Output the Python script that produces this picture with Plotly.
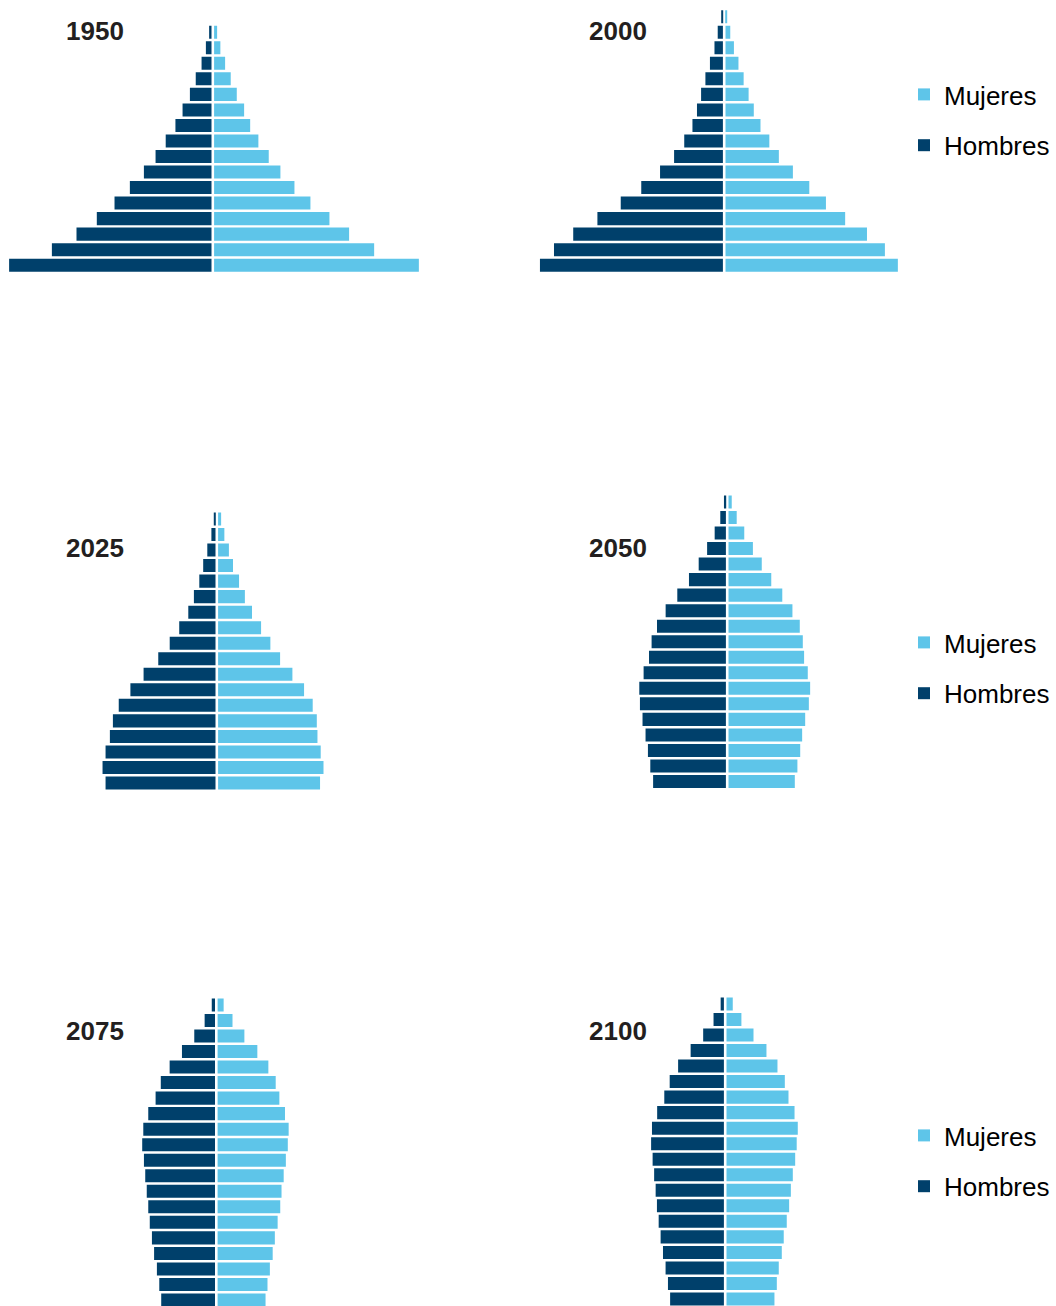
import plotly.graph_objects as go

# ---------------- data (% of total population, youngest -> oldest) ----------------
age_groups = ["0-4", "5-9", "10-14", "15-19", "20-24", "25-29", "30-34", "35-39",
              "40-44", "45-49", "50-54", "55-59", "60-64", "65-69", "70-74",
              "75-79", "80-84", "85-89", "90-94", "95-99", "100+"]
years = ["1950", "2000", "2025", "2050", "2075", "2100"]

hombres_1950 = [9.37, 7.39, 6.25, 5.31, 4.49, 3.78, 3.13, 2.59, 2.12, 1.67, 1.34, 1.00, 0.73, 0.46, 0.26, 0.11]
mujeres_1950 = [9.48, 7.41, 6.25, 5.34, 4.46, 3.72, 3.07, 2.53, 2.05, 1.67, 1.39, 1.05, 0.77, 0.51, 0.29, 0.14]

hombres_2000 = [8.47, 7.82, 6.93, 5.81, 4.73, 3.78, 2.91, 2.26, 1.79, 1.41, 1.20, 1.01, 0.81, 0.60, 0.39, 0.24, 0.06]
mujeres_2000 = [7.98, 7.38, 6.55, 5.54, 4.65, 3.88, 3.12, 2.47, 2.03, 1.62, 1.31, 1.07, 0.84, 0.60, 0.39, 0.22, 0.06]

hombres_2025 = [5.09, 5.23, 5.09, 4.89, 4.75, 4.48, 3.94, 3.33, 2.65, 2.12, 1.68, 1.26, 1.00, 0.75, 0.57, 0.38, 0.19, 0.08]
mujeres_2025 = [4.72, 4.88, 4.75, 4.60, 4.57, 4.38, 3.98, 3.44, 2.87, 2.42, 1.99, 1.57, 1.24, 0.97, 0.69, 0.50, 0.29, 0.14]

hombres_2050 = [3.37, 3.50, 3.61, 3.72, 3.86, 3.98, 4.01, 3.81, 3.56, 3.44, 3.19, 2.79, 2.25, 1.71, 1.26, 0.87, 0.52, 0.26, 0.09]
mujeres_2050 = [3.07, 3.19, 3.32, 3.41, 3.55, 3.72, 3.78, 3.67, 3.50, 3.44, 3.30, 2.96, 2.49, 1.98, 1.54, 1.13, 0.73, 0.38, 0.15]

hombres_2075 = [2.49, 2.58, 2.69, 2.82, 2.92, 3.02, 3.09, 3.16, 3.23, 3.29, 3.37, 3.32, 3.09, 2.75, 2.51, 2.10, 1.53, 0.96, 0.48, 0.15]
mujeres_2075 = [2.22, 2.31, 2.42, 2.55, 2.65, 2.78, 2.90, 2.96, 3.06, 3.16, 3.25, 3.29, 3.12, 2.86, 2.69, 2.35, 1.84, 1.24, 0.69, 0.28]

hombres_2100 = [2.49, 2.59, 2.70, 2.82, 2.93, 3.02, 3.10, 3.16, 3.23, 3.30, 3.37, 3.33, 3.09, 2.76, 2.51, 2.12, 1.54, 0.96, 0.48, 0.15]
mujeres_2100 = [2.22, 2.33, 2.42, 2.56, 2.65, 2.79, 2.90, 2.98, 3.07, 3.18, 3.25, 3.30, 3.15, 2.87, 2.70, 2.36, 1.85, 1.25, 0.69, 0.29]

hombres = [hombres_1950, hombres_2000, hombres_2025, hombres_2050, hombres_2075, hombres_2100]
mujeres = [mujeres_1950, mujeres_2000, mujeres_2025, mujeres_2050, mujeres_2075, mujeres_2100]

# ---------------- styling / layout ----------------
W, H = 1056, 1306
C_MEN = "#00406B"
C_WOMEN = "#5EC5E9"
TXT = "#231F20"
FONT = "Liberation Sans, Arial, sans-serif"
PX_PER_PCT = 21.6
ROW_PX = 15.53
HALF_W = 212.0
GAP = 0.06

# (center x px, px of youngest row center, top px, bottom px)
panels = [
    (212.8, 265.2, 4, 282),
    (724.2, 265.2, 4, 282),
    (216.8, 783.0, 470, 800),
    (727.2, 781.5, 470, 800),
    (216.3, 1300.0, 985, 1306),
    (725.2, 1299.0, 985, 1306),
]
title_pos = [(64, 31), (587, 31), (64, 548), (587, 548), (64, 1031), (587, 1031)]
legend_names = ["legend", "legend2", "legend3"]

fig = go.Figure()
for i, (yr, hm, mj, (cx, c0, top, bot)) in enumerate(zip(years, hombres, mujeres, panels)):
    k = i + 1
    xa = "x" if k == 1 else f"x{k}"
    ya = "y" if k == 1 else f"y{k}"
    show = (i % 2 == 1)
    leg = legend_names[i // 2]
    fig.add_trace(go.Bar(
        y=age_groups[:len(mj)], x=mj, base=GAP, orientation="h",
        marker=dict(color=C_WOMEN, line=dict(width=0)),
        name="Mujeres", legendgroup="m", showlegend=show, legend=leg,
        xaxis=xa, yaxis=ya))
    fig.add_trace(go.Bar(
        y=age_groups[:len(hm)], x=[-v for v in hm], base=-GAP, orientation="h",
        marker=dict(color=C_MEN, line=dict(width=0)),
        name="Hombres", legendgroup="h", showlegend=show, legend=leg,
        xaxis=xa, yaxis=ya))

    xkey = "xaxis" if k == 1 else f"xaxis{k}"
    ykey = "yaxis" if k == 1 else f"yaxis{k}"
    fig.update_layout(**{
        xkey: dict(domain=[(cx - HALF_W) / W, (cx + HALF_W) / W],
                   range=[-HALF_W / PX_PER_PCT, HALF_W / PX_PER_PCT],
                   visible=False, fixedrange=True, anchor=ya),
        ykey: dict(domain=[1 - bot / H, 1 - top / H],
                   range=[(c0 - bot) / ROW_PX, (c0 - top) / ROW_PX],
                   type="category", categoryorder="array", categoryarray=age_groups,
                   visible=False, fixedrange=True, anchor=xa),
    })
    tx, ty = title_pos[i]
    fig.add_annotation(text=f"<b>{yr}</b>", x=tx / W, y=1 - ty / H, xref="paper", yref="paper",
                       xanchor="left", yanchor="middle", showarrow=False,
                       font=dict(family=FONT, size=26, color=TXT))

legend_common = dict(font=dict(family=FONT, size=26, color="#000000"),
                     traceorder="grouped", tracegroupgap=14,
                     bgcolor="rgba(0,0,0,0)", xanchor="left", yanchor="top",
                     itemclick=False, itemdoubleclick=False)
legend_y = [96, 644, 1137]
LEG_X = 904
fig.update_layout(
    legend=dict(x=LEG_X / W, y=1 - (legend_y[0] - 25) / H, **legend_common),
    legend2=dict(x=LEG_X / W, y=1 - (legend_y[1] - 25) / H, **legend_common),
    legend3=dict(x=LEG_X / W, y=1 - (legend_y[2] - 25) / H, **legend_common),
)

fig.update_layout(
    width=W, height=H, margin=dict(l=0, r=0, t=0, b=0),
    paper_bgcolor="white", plot_bgcolor="rgba(0,0,0,0)",
    barmode="overlay", bargap=0.16,
    font=dict(family=FONT, color=TXT),
    showlegend=True,
)

fig.write_html("out.html", config={"displayModeBar": False, "staticPlot": False},
               post_script="document.body.style.margin='0px';")
